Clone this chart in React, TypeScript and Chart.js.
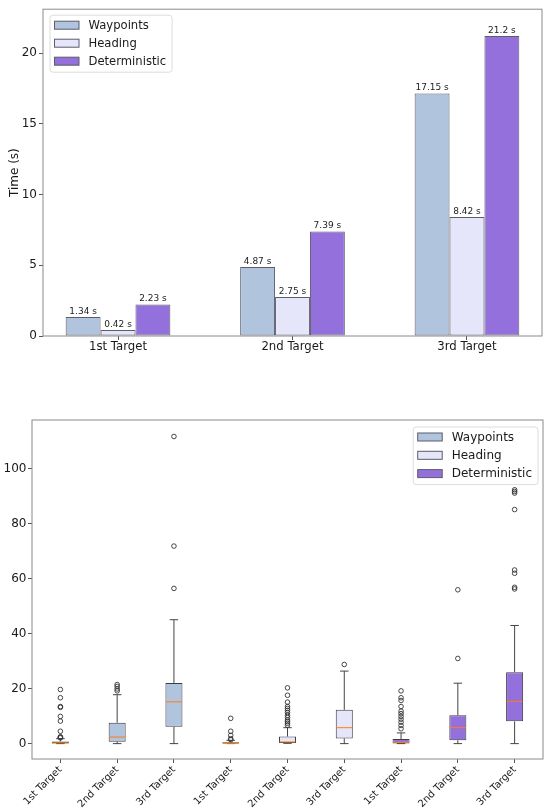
import { useEffect, useRef } from "react"
import { Chart, registerables } from "chart.js"

Chart.register(...registerables)
Chart.defaults.font.family = "'DejaVu Sans', sans-serif"
Chart.defaults.color = "#1a1a1a"

const targets = ["1st Target", "2nd Target", "3rd Target"]
const methods = ["Waypoints", "Heading", "Deterministic"]
const methodColors = ["#b0c4de", "#e6e6fa", "#9370db"]

// mean time per target (top chart)
const waypointTimes = [1.34, 4.87, 17.15]
const headingTimes = [0.42, 2.75, 8.42]
const deterministicTimes = [2.23, 7.39, 21.2]
const timeTicks = [0, 5, 10, 15, 20]

// box plot stats (bottom chart), 3 methods x 3 targets
const boxLabels = [...targets, ...targets, ...targets]
const boxMethod = [0, 0, 0, 1, 1, 1, 2, 2, 2]
const whiskerLow = [0, 0, 0, 0, 0.1, 0, 0, 0, 0]
const boxQ1 = [0.05, 0.7, 6.1, 0.02, 0.2, 1.9, 0.05, 1.2, 8.1]
const boxMedian = [0.3, 2.4, 15.2, 0.1, 0.6, 5.8, 0.5, 5.8, 15.4]
const boxQ3 = [0.8, 7.6, 22.1, 0.5, 2.6, 12.3, 1.7, 10.3, 26.0]
const whiskerHigh = [1.8, 17.8, 45.1, 1.2, 5.8, 26.4, 3.9, 22.0, 43.0]
const boxOutliers = [
  [2.1, 2.3, 2.5, 4.5, 8.2, 9.9, 13.2, 13.5, 16.7, 19.7],
  [19.2, 19.9, 20.8, 21.5],
  [56.5, 71.9, 111.8],
  [1.4, 1.8, 3.0, 4.5, 9.2],
  [6.7, 7.4, 8.0, 8.6, 9.5, 10.3, 11.3, 12.1, 12.8, 13.5, 15.1, 17.6, 20.3],
  [28.8],
  [5.4, 6.6, 7.8, 8.9, 9.9, 10.9, 11.8, 13.5, 15.7, 16.7, 19.2],
  [31.0, 56.0],
  [56.3, 56.9, 62.0, 63.2, 85.2, 91.2, 91.8, 92.4],
]
const boxTicks = [0, 20, 40, 60, 80, 100]

const frameColor = "#8a8a8a"
const edgeColor = "#5c5c6a"

// full rectangle around the plot area, like matplotlib spines
const framePlugin = {
  id: "frame",
  afterDatasetsDraw(chart: any) {
    const { ctx, chartArea: a } = chart
    ctx.save()
    ctx.strokeStyle = frameColor
    ctx.lineWidth = 1
    ctx.strokeRect(a.left, a.top, a.right - a.left, a.bottom - a.top)
    ctx.restore()
  },
}

// legend drawn inside the plot area
const insideLegend = {
  id: "insideLegend",
  afterDraw(chart: any, _args: any, opts: any) {
    const { ctx, chartArea: a } = chart
    const size = opts.fontSize
    ctx.save()
    ctx.font = `${size}px 'DejaVu Sans'`
    const textW = Math.max(...methods.map((m) => ctx.measureText(m).width))
    const padL = 4.5, patchW = 24.5, patchH = 8, gap = 9.5, padR = 6
    const rowH = opts.rowHeight
    const w = padL + patchW + gap + textW + padR
    const h = 10 + rowH * (methods.length - 1) + 11
    const left = opts.side === "left" ? a.left + opts.dx : a.right - opts.dx - w
    const top = a.top + opts.dy
    ctx.beginPath()
    ctx.roundRect(left, top, w, h, 3)
    ctx.fillStyle = "rgba(255,255,255,0.85)"
    ctx.fill()
    ctx.strokeStyle = "#dcdcdc"
    ctx.lineWidth = 1
    ctx.stroke()
    methods.forEach((m, i) => {
      const cy = top + 10 + i * rowH
      ctx.fillStyle = methodColors[i]
      ctx.fillRect(left + padL, cy - patchH / 2, patchW, patchH)
      ctx.strokeStyle = edgeColor
      ctx.strokeRect(left + padL, cy - patchH / 2, patchW, patchH)
      ctx.fillStyle = "#1a1a1a"
      ctx.textBaseline = "middle"
      ctx.textAlign = "left"
      ctx.fillText(m, left + padL + patchW + gap, cy + 0.5)
    })
    ctx.restore()
  },
}

// "x s" labels on top of every bar
const barValueLabels = {
  id: "barValueLabels",
  afterDatasetsDraw(chart: any) {
    const { ctx } = chart
    ctx.save()
    ctx.font = "9px 'DejaVu Sans'"
    ctx.fillStyle = "#222"
    ctx.textAlign = "center"
    ctx.textBaseline = "bottom"
    chart.data.datasets.forEach((ds: any, i: number) => {
      chart.getDatasetMeta(i).data.forEach((el: any, j: number) => {
        ctx.fillText(`${ds.data[j].y} s`, el.x, el.y - 1)
      })
    })
    ctx.restore()
  },
}

// whiskers, caps and medians for the box dataset (dataset 0)
const boxLines = {
  id: "boxLines",
  beforeDatasetsDraw(chart: any) {
    const { ctx, scales } = chart
    const meta = chart.getDatasetMeta(0)
    ctx.save()
    ctx.strokeStyle = "#444"
    ctx.lineWidth = 1
    meta.data.forEach((el: any, i: number) => {
      const x = scales.x.getPixelForValue(i + 1)
      const cap = el.width / 4
      const yl = scales.y.getPixelForValue(whiskerLow[i])
      const yh = scales.y.getPixelForValue(whiskerHigh[i])
      ctx.beginPath()
      ctx.moveTo(x, yh)
      ctx.lineTo(x, scales.y.getPixelForValue(boxQ3[i]))
      ctx.moveTo(x, yl)
      ctx.lineTo(x, scales.y.getPixelForValue(boxQ1[i]))
      ctx.moveTo(x - cap, yh)
      ctx.lineTo(x + cap, yh)
      ctx.moveTo(x - cap, yl)
      ctx.lineTo(x + cap, yl)
      ctx.stroke()
    })
    ctx.restore()
  },
  afterDatasetsDraw(chart: any) {
    const { ctx, scales } = chart
    const meta = chart.getDatasetMeta(0)
    ctx.save()
    ctx.strokeStyle = "#ff7f0e"
    ctx.lineWidth = 1
    meta.data.forEach((el: any, i: number) => {
      const x = scales.x.getPixelForValue(i + 1)
      const y = scales.y.getPixelForValue(boxMedian[i])
      ctx.beginPath()
      ctx.moveTo(x - el.width / 2 + 0.5, y)
      ctx.lineTo(x + el.width / 2 - 0.5, y)
      ctx.stroke()
    })
    ctx.restore()
  },
}

const tickGrid = { drawOnChartArea: false, drawTicks: true, tickLength: 4, color: "#555", offset: false }

function TimeBarChart() {
  const chartRef = useRef<HTMLCanvasElement>(null)
  const chartInstance = useRef<Chart | null>(null)

  useEffect(() => {
    if (!chartRef.current) return
    const ctx = chartRef.current.getContext("2d")
    if (!ctx) return
    if (chartInstance.current) chartInstance.current.destroy()

    const series = [waypointTimes, headingTimes, deterministicTimes]

    chartInstance.current = new Chart(ctx, {
      type: "bar",
      data: {
        datasets: series.map((values, s) => ({
          label: methods[s],
          data: values.map((y, i) => ({ x: i, y })),
          backgroundColor: methodColors[s],
          borderColor: edgeColor,
          borderWidth: 1,
          borderSkipped: false,
          categoryPercentage: 0.6,
          barPercentage: 1,
        })),
      },
      options: {
        responsive: true,
        maintainAspectRatio: false,
        animation: false,
        layout: { padding: { left: 0, right: 8, top: 6, bottom: 0 } },
        plugins: {
          legend: { display: false },
          tooltip: { enabled: false },
          insideLegend: { side: "left", dx: 7, dy: 6, fontSize: 11.6, rowHeight: 18 },
        } as any,
        scales: {
          x: {
            type: "linear",
            min: -0.43,
            max: 2.43,
            offset: false,
            afterBuildTicks: (s: any) => {
              s.ticks = targets.map((_, i) => ({ value: i }))
            },
            afterFit: (s: any) => {
              s.height = 64
            },
            grid: tickGrid,
            border: { display: false },
            ticks: {
              callback: (v: any) => targets[v],
              maxRotation: 0,
              autoSkip: false,
              font: { size: 11.7 },
              padding: 0,
            },
          },
          y: {
            min: 0,
            max: 23.1,
            afterBuildTicks: (s: any) => {
              s.ticks = timeTicks.map((value) => ({ value }))
            },
            afterFit: (s: any) => {
              s.width = 43
            },
            grid: tickGrid,
            border: { display: false },
            ticks: { font: { size: 12 }, padding: 2 },
            title: { display: true, text: "Time (s)", font: { size: 12 }, padding: { top: 8, bottom: 0 } },
          },
        },
      },
      plugins: [framePlugin, barValueLabels, insideLegend],
    })

    return () => {
      if (chartInstance.current) {
        chartInstance.current.destroy()
        chartInstance.current = null
      }
    }
  }, [])

  return (
    <div style={{ position: "relative", width: 550, height: 400 }}>
      <canvas ref={chartRef}></canvas>
    </div>
  )
}

function BoxPlotChart() {
  const chartRef = useRef<HTMLCanvasElement>(null)
  const chartInstance = useRef<Chart | null>(null)

  useEffect(() => {
    if (!chartRef.current) return
    const ctx = chartRef.current.getContext("2d")
    if (!ctx) return
    if (chartInstance.current) chartInstance.current.destroy()

    chartInstance.current = new Chart(ctx, {
      type: "bar",
      data: {
        datasets: [
          {
            type: "bar",
            label: "boxes",
            data: boxQ1.map((q1, i) => ({ x: i + 1, y: [q1, boxQ3[i]] })) as any,
            backgroundColor: boxMethod.map((m) => methodColors[m]),
            borderColor: "#3c3c46",
            borderWidth: 1,
            borderSkipped: false,
            categoryPercentage: 1,
            barPercentage: 0.3,
          },
          {
            type: "scatter",
            label: "outliers",
            data: boxOutliers.flatMap((vals, i) => vals.map((y) => ({ x: i + 1, y }))) as any,
            pointStyle: "circle",
            pointRadius: 2.3,
            backgroundColor: "rgba(255,255,255,0)",
            borderColor: "#333",
            borderWidth: 0.9,
          } as any,
        ],
      },
      options: {
        responsive: true,
        maintainAspectRatio: false,
        animation: false,
        layout: { padding: { left: 0, right: 7, top: 20, bottom: 0 } },
        plugins: {
          legend: { display: false },
          tooltip: { enabled: false },
          insideLegend: { side: "right", dx: 5, dy: 7, fontSize: 12, rowHeight: 18.3 },
        } as any,
        scales: {
          x: {
            type: "linear",
            min: 0.5,
            max: 9.5,
            offset: false,
            afterBuildTicks: (s: any) => {
              s.ticks = boxLabels.map((_, i) => ({ value: i + 1 }))
            },
            afterFit: (s: any) => {
              s.height = 49
            },
            grid: tickGrid,
            border: { display: false },
            ticks: {
              callback: (v: any) => boxLabels[v - 1],
              minRotation: 45,
              maxRotation: 45,
              autoSkip: false,
              font: { size: 10 },
              padding: 1,
            },
          },
          y: {
            min: -5.6,
            max: 117.8,
            afterBuildTicks: (s: any) => {
              s.ticks = boxTicks.map((value) => ({ value }))
            },
            afterFit: (s: any) => {
              s.width = 32
            },
            grid: tickGrid,
            border: { display: false },
            ticks: { font: { size: 12 }, padding: 1.5 },
          },
        },
      },
      plugins: [framePlugin, boxLines, insideLegend],
    })

    return () => {
      if (chartInstance.current) {
        chartInstance.current.destroy()
        chartInstance.current = null
      }
    }
  }, [])

  return (
    <div style={{ position: "relative", width: 550, height: 408 }}>
      <canvas ref={chartRef}></canvas>
    </div>
  )
}

export default function App() {
  return (
    <div style={{ position: "absolute", left: 0, top: 0, width: 550, height: 808, background: "#fff" }}>
      <TimeBarChart />
      <BoxPlotChart />
    </div>
  )
}
